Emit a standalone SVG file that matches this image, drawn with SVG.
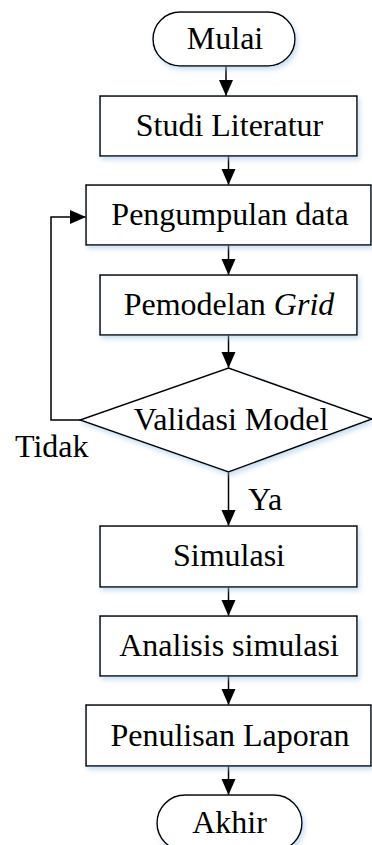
<svg xmlns="http://www.w3.org/2000/svg" width="372" height="845" viewBox="0 0 372 845">
<defs>
<filter id="sh" x="-10%" y="-10%" width="130%" height="140%">
<feDropShadow dx="2" dy="3" stdDeviation="2.5" flood-color="#9cc2e8" flood-opacity="0.55"/>
</filter>
<marker id="ah" markerUnits="userSpaceOnUse" markerWidth="17" markerHeight="15" refX="16" refY="7" orient="auto">
<path d="M0,0 L16,7 L0,14 z" fill="#000"/>
</marker>
</defs>
<style>
.n{fill:#fff;stroke:#000;stroke-width:1.5;filter:url(#sh)}
.t{font-family:"Liberation Serif","Times New Roman",serif;font-size:32px;fill:#000;text-anchor:middle}
.l{font-family:"Liberation Serif","Times New Roman",serif;font-size:32px;fill:#000}
.c{fill:none;stroke:#000;stroke-width:1.5;marker-end:url(#ah)}
</style>
<rect width="372" height="845" fill="#fff"/>
<g id="connectors">
<line class="c" x1="226" y1="66" x2="226" y2="96"/>
<line class="c" x1="228.5" y1="156" x2="228.5" y2="185"/>
<line class="c" x1="228.5" y1="245" x2="228.5" y2="275"/>
<line class="c" x1="228.5" y1="335" x2="228.5" y2="368"/>
<polyline class="c" points="80,420 51,420 51,217 86,217"/>
<line class="c" x1="228.5" y1="472" x2="228.5" y2="526"/>
<line class="c" x1="228.5" y1="587" x2="228.5" y2="616"/>
<line class="c" x1="228.5" y1="676" x2="228.5" y2="705"/>
<line class="c" x1="228.5" y1="766" x2="228.5" y2="795"/>
<text class="l" x="15" y="457">Tidak</text>
<text class="l" x="248" y="510">Ya</text>
</g>
<g id="mulai">
<rect class="n" x="153" y="12" width="142" height="54" rx="27" ry="27"/>
<text class="t" x="225" y="49">Mulai</text>
</g>
<g id="studi">
<rect class="n" x="100" y="96" width="257" height="60"/>
<text class="t" x="229.5" y="136">Studi Literatur</text>
</g>
<g id="pengumpulan">
<rect class="n" x="86" y="185" width="285" height="60"/>
<text class="t" x="230" y="225">Pengumpulan data</text>
</g>
<g id="pemodelan">
<rect class="n" x="100" y="275" width="257" height="60"/>
<text class="t" x="229" y="315">Pemodelan <tspan font-style="italic">Grid</tspan></text>
</g>
<g id="validasi">
<polygon class="n" points="228.5,368 372,419 228.5,472 80,420"/>
<text class="t" x="231" y="430">Validasi Model</text>
</g>
<g id="simulasi">
<rect class="n" x="100" y="526" width="257" height="61"/>
<text class="t" x="229" y="566">Simulasi</text>
</g>
<g id="analisis">
<rect class="n" x="100" y="616" width="257" height="60"/>
<text class="t" x="229" y="656">Analisis simulasi</text>
</g>
<g id="penulisan">
<rect class="n" x="86" y="705" width="285" height="61"/>
<text class="t" x="230" y="746">Penulisan Laporan</text>
</g>
<g id="akhir">
<rect class="n" x="157" y="795" width="145" height="56" rx="28" ry="28"/>
<text class="t" x="229.5" y="833">Akhir</text>
</g>
</svg>
